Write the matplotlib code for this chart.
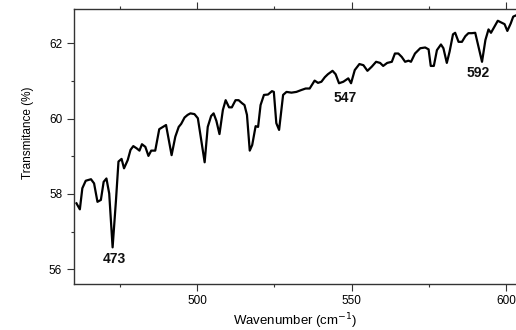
import matplotlib.pyplot as plt
from matplotlib.ticker import MultipleLocator

plt.rcParams['font.family'] = ['Liberation Sans', 'DejaVu Sans']

# IR spectrum
wavenumber = [460.9, 462.0, 462.8, 463.9, 465.6, 466.6, 467.7, 468.8, 469.7, 470.6,
              471.5, 472.6, 473.7, 474.5, 475.5, 476.3, 477.5, 478.4, 479.3, 480.4,
              481.3, 482.1, 483.2, 484.2, 485.1, 486.4, 487.7, 489.9, 491.7, 492.9,
              494.0, 494.8, 495.9, 496.9, 497.8, 499.1, 500.2, 501.3, 502.4, 503.4,
              504.5, 505.3, 506.2, 507.2, 508.3, 509.2, 510.3, 511.2, 512.4, 513.4,
              514.5, 515.3, 516.1, 517.0, 517.8, 518.9, 519.7, 520.5, 521.6, 522.9,
              524.2, 524.8, 525.6, 526.5, 527.8, 528.9, 530.5, 532.1, 533.7, 535.1,
              536.4, 538.0, 539.1, 540.2, 541.3, 542.3, 543.8, 544.8, 545.9, 547.3,
              548.9, 549.8, 551.0, 552.5, 553.8, 555.1, 556.5, 557.9, 559.2, 560.2,
              561.5, 563.0, 564.0, 565.1, 566.2, 567.3, 568.4, 569.2, 570.5, 572.2,
              573.8, 574.9, 575.6, 576.6, 577.6, 578.9, 579.7, 580.8, 581.7, 582.8,
              583.5, 584.6, 585.7, 586.8, 587.8, 588.9, 590.0, 590.8, 592.2, 593.3,
              594.3, 595.1, 596.2, 597.3, 598.5, 599.5, 600.4, 601.5, 602.3, 603.4]
transmittance = [57.75, 57.59, 58.15, 58.35, 58.39, 58.28, 57.79, 57.84, 58.32, 58.41,
                 58.01, 56.58, 57.84, 58.86, 58.93, 58.68, 58.90, 59.17, 59.27, 59.21,
                 59.15, 59.32, 59.25, 59.01, 59.15, 59.15, 59.72, 59.83, 59.03, 59.52,
                 59.78, 59.86, 60.03, 60.10, 60.14, 60.12, 60.01, 59.43, 58.84, 59.78,
                 60.07, 60.14, 59.94, 59.59, 60.23, 60.49, 60.30, 60.30, 60.49, 60.49,
                 60.41, 60.36, 60.10, 59.15, 59.30, 59.80, 59.78, 60.36, 60.63, 60.64,
                 60.73, 60.71, 59.88, 59.70, 60.63, 60.71, 60.69, 60.71, 60.76, 60.80,
                 60.80, 61.01, 60.95, 60.98, 61.10, 61.18, 61.27, 61.18, 60.94, 60.98,
                 61.07, 60.94, 61.29, 61.45, 61.42, 61.27, 61.38, 61.51, 61.48, 61.40,
                 61.48, 61.51, 61.73, 61.73, 61.64, 61.51, 61.54, 61.51, 61.73, 61.87,
                 61.89, 61.84, 61.40, 61.40, 61.82, 61.97, 61.87, 61.48, 61.78, 62.24,
                 62.28, 62.04, 62.04, 62.19, 62.27, 62.27, 62.28, 62.00, 61.51, 62.09,
                 62.37, 62.28, 62.44, 62.60, 62.55, 62.51, 62.33, 62.53, 62.71, 62.75]

# band labels
peak_labels = ['473', '547', '592']
peak_x = [473.3, 548.0, 590.9]
peak_y = [56.27, 60.54, 61.20]

fig = plt.figure(figsize=(5.16, 3.3), dpi=100)
ax = fig.add_axes([0.1434, 0.1409, 0.8566, 0.8327])

ax.plot(wavenumber, transmittance, color='black', linewidth=1.6, clip_on=False)

for lab, x, y in zip(peak_labels, peak_x, peak_y):
    ax.text(x, y, lab, ha='center', va='center', fontsize=10, fontweight='bold',
            color='#111111')

ax.set_xlim(460.1, 603.2)
ax.set_ylim(55.62, 62.92)
ax.xaxis.set_major_locator(MultipleLocator(50))
ax.xaxis.set_minor_locator(MultipleLocator(25))
ax.yaxis.set_major_locator(MultipleLocator(2))
ax.yaxis.set_minor_locator(MultipleLocator(1))

ax.spines['right'].set_visible(False)
for s in ['left', 'bottom', 'top']:
    ax.spines[s].set_linewidth(1.0)
    ax.spines[s].set_color('#333333')

ax.tick_params(which='major', length=5, width=0.8, labelsize=8.5, direction='out',
               color='#333333')
ax.tick_params(which='minor', length=2.5, width=0.8, direction='out', color='#333333')
ax.tick_params(axis='x', top=True, which='both')

ax.set_xlabel('Wavenumber (cm$^{-1}$)', fontsize=9.5, labelpad=3)
ax.set_ylabel('Transmitance (%)', fontsize=8.5)
ax.yaxis.set_label_coords(-0.09, 0.548)

fig.savefig('out.png', dpi=100)
